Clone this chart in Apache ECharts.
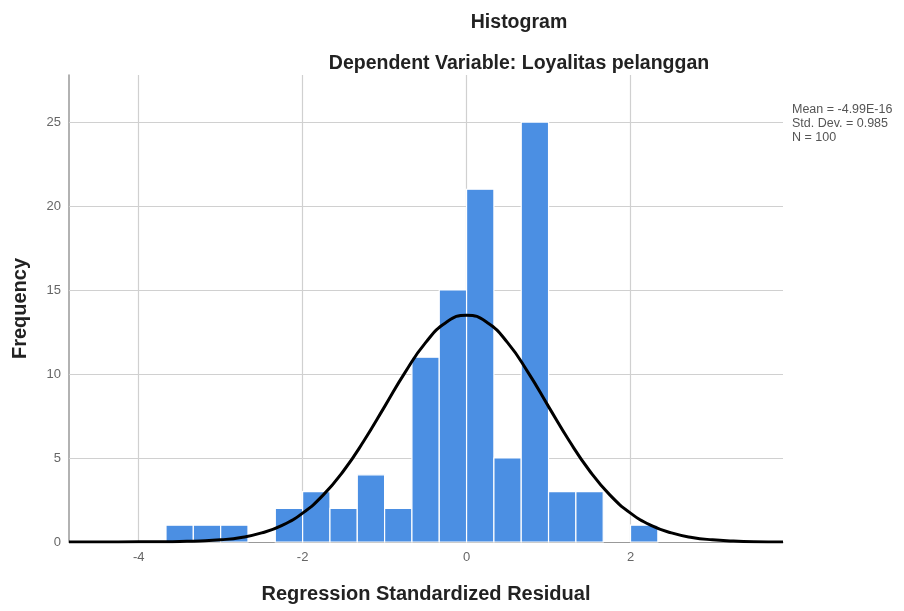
<!DOCTYPE html>
<html>
<head>
<meta charset="utf-8">
<script src="https://cdn.jsdelivr.net/npm/echarts@6/dist/echarts.min.js"></script>
<style>
html, body { margin: 0; padding: 0; background: #fff; }
#chart { width: 904px; height: 611px; }
</style>
</head>
<body>
<div id="chart"></div>
<script>
// histogram bins (left edge, right edge) and counts
var binLeft = [-11/3, -10/3, -3, -7/3, -2, -5/3, -4/3, -1, -2/3, -1/3, 0, 1/3, 2/3, 1, 4/3, 2];
var binRight = [-10/3, -3, -8/3, -2, -5/3, -4/3, -1, -2/3, -1/3, 0, 1/3, 2/3, 1, 4/3, 5/3, 7/3];
var counts = [1, 1, 1, 2, 3, 2, 4, 2, 11, 15, 21, 5, 25, 3, 3, 1];

// normal curve
var curveX = [-4.85, -4.5, -4, -3.75, -3.5, -3.25, -3, -2.75, -2.5, -2.25, -2, -1.75, -1.5, -1.25, -1, -0.75, -0.5, -0.25,
  0, 0.25, 0.5, 0.75, 1, 1.25, 1.5, 1.75, 2, 2.25, 2.5, 2.75, 3, 3.25, 3.5, 3.86];
var curveY = [0, 0, 0.01, 0.01, 0.03, 0.06, 0.13, 0.27, 0.54, 0.99, 1.72, 2.79, 4.24, 6.04, 8.06, 10.10, 11.87, 13.07,
  13.5, 13.07, 11.87, 10.10, 8.06, 6.04, 4.24, 2.79, 1.72, 0.99, 0.54, 0.27, 0.13, 0.06, 0.02, 0];

var xTicks = [-4, -2, 0, 2];
var yTicks = [0, 5, 10, 15, 20, 25];

var myChart = echarts.init(document.getElementById('chart'));

var barData = [];
for (var i = 0; i < counts.length; i++) {
  barData.push([binLeft[i], binRight[i], counts[i]]);
}
var curveData = [];
for (var j = 0; j < curveX.length; j++) {
  curveData.push([curveX[j], curveY[j]]);
}
var gridMarks = [];
xTicks.forEach(function (v) { gridMarks.push({ xAxis: v }); });
yTicks.forEach(function (v) { if (v > 0) gridMarks.push({ yAxis: v }); });

var option = {
  animation: false,
  textStyle: { fontFamily: 'Liberation Sans, Arial, sans-serif' },
  title: [{
    text: 'Histogram',
    left: 514, top: 8, textAlign: 'center',
    textStyle: { fontSize: 19.5, fontWeight: 'bold', color: '#222' }
  }, {
    text: 'Dependent Variable: Loyalitas pelanggan',
    left: 514, top: 49, textAlign: 'center',
    textStyle: { fontSize: 19.5, fontWeight: 'bold', color: '#222' }
  }],
  graphic: [{
    type: 'text',
    left: 792, top: 103,
    style: {
      text: 'Mean = -4.99E-16\nStd. Dev. = 0.985\nN = 100',
      font: '12.5px Liberation Sans, Arial, sans-serif',
      fill: '#555',
      lineHeight: 14
    }
  }],
  grid: { left: 69, right: 121, top: 75, bottom: 69 },
  xAxis: {
    type: 'value',
    min: -4.85, max: 3.86,
    name: 'Regression Standardized Residual',
    nameLocation: 'middle', nameGap: 42,
    nameTextStyle: { fontSize: 20, fontWeight: 'bold', color: '#222' },
    axisLine: { show: true, onZero: false, lineStyle: { color: '#999' } },
    axisTick: { show: false },
    splitLine: { show: false },
    axisLabel: { customValues: xTicks, color: '#666', fontSize: 13, margin: 9 }
  },
  yAxis: {
    type: 'value',
    min: 0, max: 27.8,
    name: 'Frequency',
    nameLocation: 'middle', nameGap: 39, nameRotate: 90,
    nameTextStyle: { fontSize: 20, fontWeight: 'bold', color: '#222' },
    axisLine: { show: true, onZero: false, lineStyle: { color: '#999', width: 1.5 } },
    axisTick: { show: false },
    splitLine: { show: false },
    axisLabel: { customValues: yTicks, color: '#666', fontSize: 13, margin: 8 }
  },
  series: [{
    type: 'line',
    data: [],
    z: 0,
    silent: true,
    markLine: {
      z: 1,
      silent: true,
      symbol: 'none',
      label: { show: false },
      lineStyle: { color: '#d0d0d0', width: 1.2, type: 'solid' },
      data: gridMarks
    }
  }, {
    type: 'custom',
    z: 2,
    data: barData,
    encode: { x: [0, 1], y: 2 },
    renderItem: function (params, api) {
      var p0 = api.coord([api.value(0), api.value(2)]);
      var p1 = api.coord([api.value(1), 0]);
      return {
        type: 'rect',
        shape: { x: p0[0], y: p0[1], width: p1[0] - p0[0], height: p1[1] - p0[1] },
        style: { fill: '#4b8fe3', stroke: '#ffffff', lineWidth: 1.2 }
      };
    }
  }, {
    type: 'line',
    z: 3,
    data: curveData,
    smooth: true,
    showSymbol: false,
    lineStyle: { color: '#000', width: 3 }
  }]
};
myChart.setOption(option);
</script>
</body>
</html>
